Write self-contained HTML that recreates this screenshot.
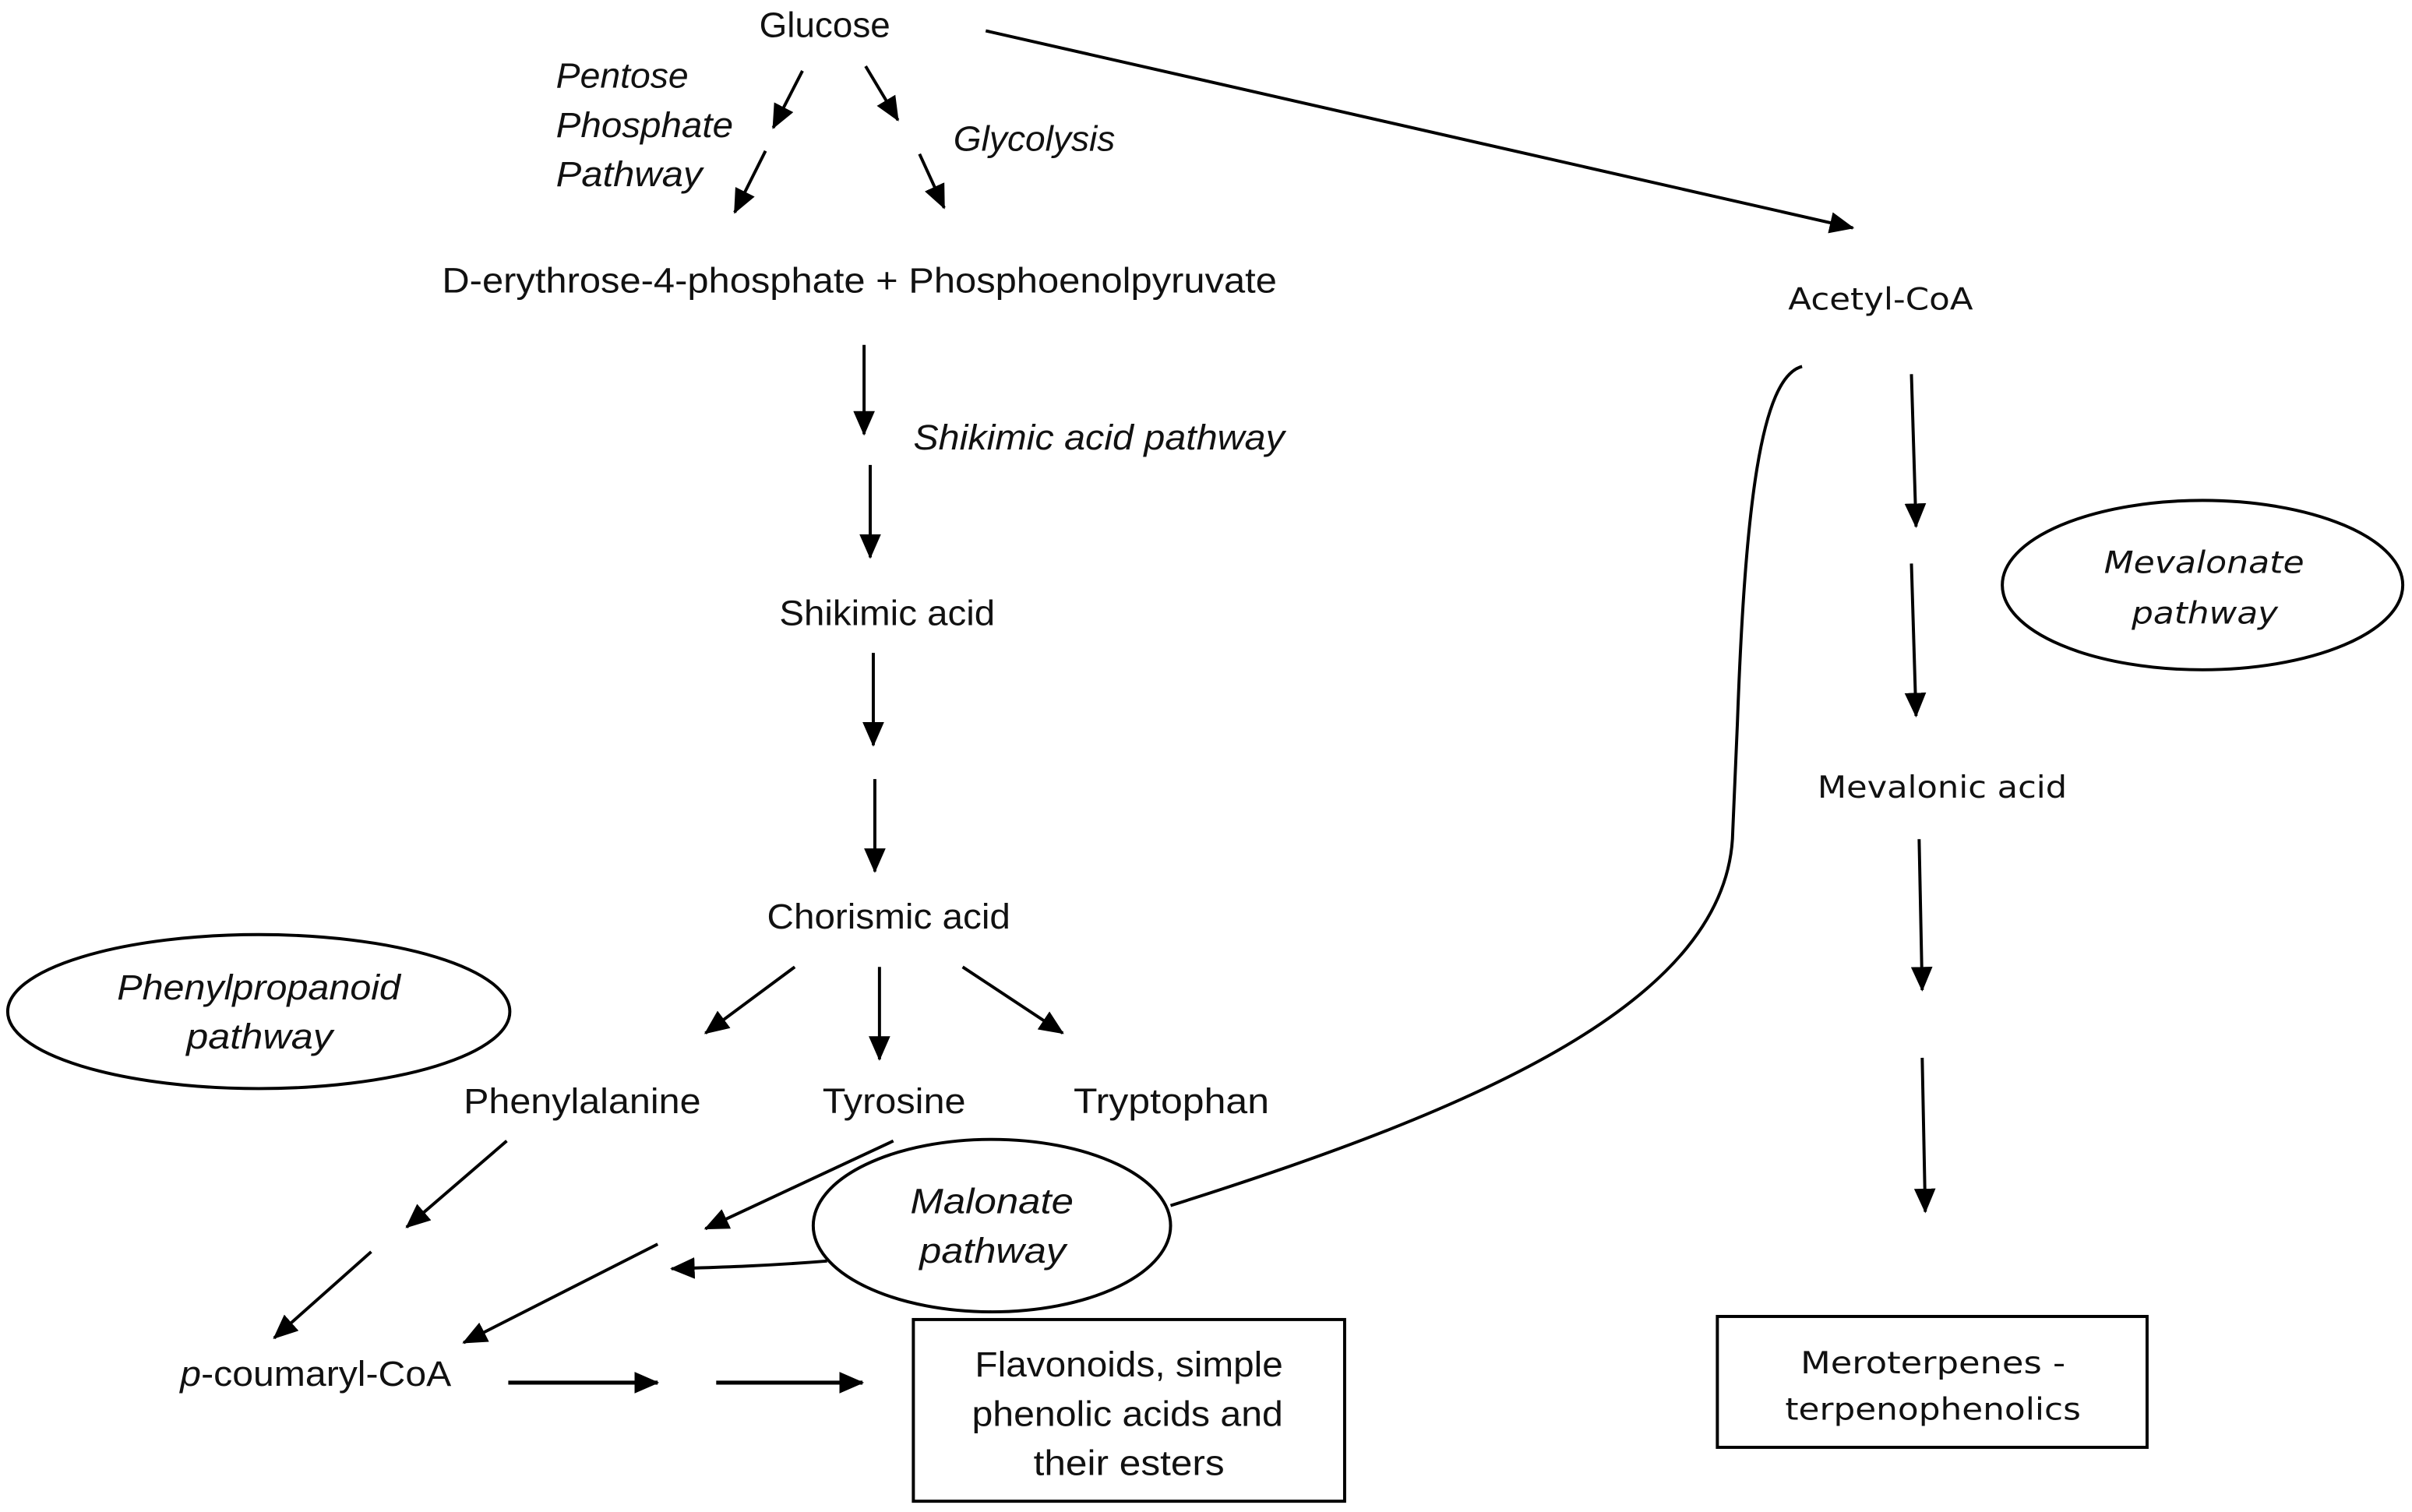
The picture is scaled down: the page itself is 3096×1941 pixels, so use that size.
<!DOCTYPE html>
<html><head><meta charset="utf-8"><style>
html,body{margin:0;padding:0;background:#fff;}
svg{display:block;}
text{font-family:"Liberation Sans",sans-serif;font-size:23px;fill:#111;}
.i{font-style:italic;}
.v{font-family:"DejaVu Sans",sans-serif;font-size:20px;}
</style></head><body>
<svg width="3096" height="1941" viewBox="0 0 1566 982" preserveAspectRatio="none" xmlns="http://www.w3.org/2000/svg">
<defs>
<marker id="c" markerWidth="16" markerHeight="14" refX="15" refY="7" orient="auto" markerUnits="userSpaceOnUse">
<path d="M0,0 L16,7 L0,14 Z" fill="#000"/></marker>
</defs>
<g stroke="#000" stroke-width="2" fill="none">
<line x1="521" y1="46" x2="502" y2="83" marker-end="url(#c)"/>
<line x1="497" y1="98" x2="477" y2="138" marker-end="url(#c)"/>
<line x1="562" y1="43" x2="583" y2="78" marker-end="url(#c)"/>
<line x1="597" y1="100" x2="613" y2="135" marker-end="url(#c)"/>
<line x1="640" y1="20" x2="1203" y2="148" marker-end="url(#c)"/>
<line x1="561" y1="224" x2="561" y2="282" marker-end="url(#c)"/>
<line x1="565" y1="302" x2="565" y2="362" marker-end="url(#c)"/>
<line x1="567" y1="424" x2="567" y2="484" marker-end="url(#c)"/>
<line x1="568" y1="506" x2="568" y2="566" marker-end="url(#c)"/>
<line x1="516" y1="628" x2="458" y2="671" marker-end="url(#c)"/>
<line x1="571" y1="628" x2="571" y2="688" marker-end="url(#c)"/>
<line x1="625" y1="628" x2="690" y2="671" marker-end="url(#c)"/>
<line x1="329" y1="741" x2="264" y2="797" marker-end="url(#c)"/>
<line x1="241" y1="813" x2="178" y2="869" marker-end="url(#c)"/>
<line x1="580" y1="741" x2="458" y2="798" marker-end="url(#c)"/>
<line x1="427" y1="808" x2="301" y2="872" marker-end="url(#c)"/>
<path d="M537,819 C500,822 470,823 436,824" marker-end="url(#c)"/>
<path d="M760,783 C960,720 1123,650 1125,540 L1128,470 C1133,330 1143,245 1170,238"/>
<line x1="330" y1="898" x2="427" y2="898" stroke-width="2.6" marker-end="url(#c)"/>
<line x1="465" y1="898" x2="560" y2="898" stroke-width="2.6" marker-end="url(#c)"/>
<line x1="1241" y1="243" x2="1244" y2="342" marker-end="url(#c)"/>
<line x1="1241" y1="366" x2="1244" y2="465" marker-end="url(#c)"/>
<line x1="1246" y1="545" x2="1248" y2="643" marker-end="url(#c)"/>
<line x1="1248" y1="687" x2="1250" y2="787" marker-end="url(#c)"/>
<ellipse cx="168" cy="657" rx="163" ry="50"/>
<ellipse cx="644" cy="796" rx="116" ry="56" fill="#fff"/>
<ellipse cx="1430" cy="380" rx="130" ry="55"/>
<rect x="593" y="857" width="280" height="118"/>
<rect x="1115" y="855" width="279" height="85"/>
</g>
<text x="493" y="24" textLength="85" lengthAdjust="spacingAndGlyphs">Glucose</text>
<text class="i" x="361" y="57" textLength="86" lengthAdjust="spacingAndGlyphs">Pentose</text>
<text class="i" x="361" y="89" textLength="115" lengthAdjust="spacingAndGlyphs">Phosphate</text>
<text class="i" x="361" y="121" textLength="95" lengthAdjust="spacingAndGlyphs">Pathway</text>
<text class="i" x="619" y="98" textLength="105" lengthAdjust="spacingAndGlyphs">Glycolysis</text>
<text x="287" y="190" textLength="542" lengthAdjust="spacingAndGlyphs">D-erythrose-4-phosphate + Phosphoenolpyruvate</text>
<text class="i" x="593" y="292" textLength="241" lengthAdjust="spacingAndGlyphs">Shikimic acid pathway</text>
<text x="506" y="406" textLength="140" lengthAdjust="spacingAndGlyphs">Shikimic acid</text>
<text x="498" y="603" textLength="158" lengthAdjust="spacingAndGlyphs">Chorismic acid</text>
<text class="i" x="76" y="649" textLength="184" lengthAdjust="spacingAndGlyphs">Phenylpropanoid</text>
<text class="i" x="121" y="681" textLength="95" lengthAdjust="spacingAndGlyphs">pathway</text>
<text x="301" y="723" textLength="154" lengthAdjust="spacingAndGlyphs">Phenylalanine</text>
<text x="534" y="723" textLength="93" lengthAdjust="spacingAndGlyphs">Tyrosine</text>
<text x="697" y="723" textLength="127" lengthAdjust="spacingAndGlyphs">Tryptophan</text>
<text class="i" x="591" y="788" textLength="106" lengthAdjust="spacingAndGlyphs">Malonate</text>
<text class="i" x="597" y="820" textLength="95" lengthAdjust="spacingAndGlyphs">pathway</text>
<text x="117" y="900" textLength="176" lengthAdjust="spacingAndGlyphs"><tspan class="i">p</tspan>-coumaryl-CoA</text>
<text x="633" y="894" textLength="200" lengthAdjust="spacingAndGlyphs">Flavonoids, simple</text>
<text x="631" y="926" textLength="202" lengthAdjust="spacingAndGlyphs">phenolic acids and</text>
<text x="671" y="958" textLength="124" lengthAdjust="spacingAndGlyphs">their esters</text>
<text class="v" x="1161" y="201" textLength="120" lengthAdjust="spacingAndGlyphs">Acetyl-CoA</text>
<text class="v i" x="1366" y="372" textLength="130" lengthAdjust="spacingAndGlyphs">Mevalonate</text>
<text class="v i" x="1384" y="405" textLength="95" lengthAdjust="spacingAndGlyphs">pathway</text>
<text class="v" x="1180" y="518" textLength="162" lengthAdjust="spacingAndGlyphs">Mevalonic acid</text>
<text class="v" x="1169" y="892" textLength="172" lengthAdjust="spacingAndGlyphs">Meroterpenes -</text>
<text class="v" x="1159" y="922" textLength="192" lengthAdjust="spacingAndGlyphs">terpenophenolics</text>
</svg>
</body></html>
